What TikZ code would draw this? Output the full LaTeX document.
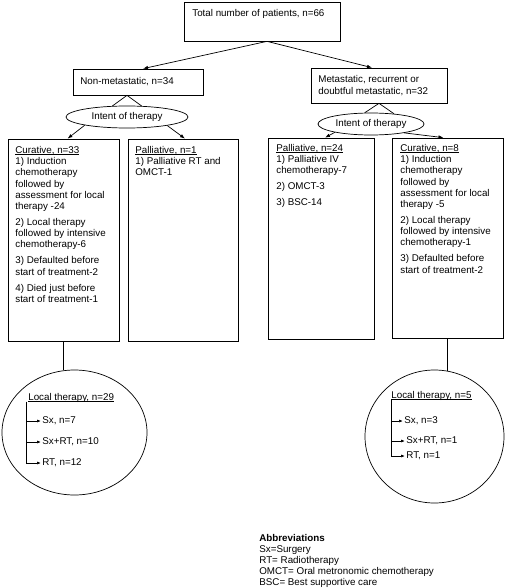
\documentclass[tikz,border=0pt]{standalone}
\usepackage{fontspec}
\setmainfont{Liberation Sans}
\usetikzlibrary{shapes.geometric,arrows.meta}
\newcommand\myul[1]{\setbox0\hbox{#1}\rlap{\rule[-1.4pt]{\wd0}{0.55pt}}\box0}
\begin{document}
\begin{tikzpicture}[x=1pt,y=-1pt,
  font=\fontsize{9.8}{11.2}\selectfont,
  line width=0.7pt,
  bx/.style={draw, rectangle, inner sep=0pt},
  txt/.style={inner sep=0pt, align=left, anchor=north west},
  oval/.style={draw, ellipse, inner sep=0pt},
  arr/.style={-{Latex[length=5pt,width=3.6pt]}},
  sarr/.style={-{Latex[length=4pt,width=3pt]}},
  lbl/.style={inner sep=1pt, anchor=west},
]
\useasboundingbox (0,0) rectangle (511,588);

% top
\node[bx, minimum width=156, minimum height=39] (top) at (262,21.5) {};
\node[txt] (toptxt) at (192,9) {Total number of patients, n=66};

% second level
\node[bx, minimum width=130, minimum height=26] (nonmet) at (138,82) {};
\node[inner sep=0pt, anchor=west] (nonmettxt) at (80,82) {Non-metastatic, n=34};
\node[bx, minimum width=136, minimum height=35] (met) at (379,85.5) {};
\node[inner sep=0pt, anchor=west, align=left] (mettxt) at (318,85.5) {Metastatic, recurrent or\\doubtful metastatic, n=32};

\draw[arr] ([xshift=5]top.south) -- ([xshift=5]nonmet.north);
\draw[arr] ([xshift=5]top.south) -- ([xshift=-7]met.north);

% ellipses
\node[oval, minimum width=122, minimum height=22] (le) at (127,117) {Intent of therapy};
\node[oval, minimum width=106, minimum height=22] (re) at (371,124) {Intent of therapy};

\coordinate (lpk) at (le.north |- nonmet.south);
\draw (le.143) -- (lpk) -- (le.37);
\coordinate (rpk) at (met.south);
\draw (re.119) -- (rpk) -- (re.24);

% third level boxes
\node[bx, minimum width=111, minimum height=202] (cur1) at (63.5,240) {};
\node[bx, minimum width=110, minimum height=202] (pal1) at (183,240) {};
\node[bx, minimum width=106, minimum height=201] (pal2) at (321,238.5) {};
\node[bx, minimum width=111, minimum height=200] (cur2) at (447.5,238) {};

\draw[arr] (le.191) -- ([xshift=4]cur1.north);
\draw[arr] (le.-12) -- ([xshift=2]pal1.north);
\draw[arr] (re.193) -- ([xshift=4]pal2.north);
\draw[arr] (re.-15) -- ([xshift=-4]cur2.north);

\node[txt] (cur1txt) at (15,146) {\myul{Curative, n=33}\\1) Induction\\chemotherapy\\followed by\\assessment for local\\therapy -24\\[4.8pt]2) Local therapy\\followed by intensive\\chemotherapy-6\\[4.8pt]3) Defaulted before\\start of treatment-2\\[4.8pt]4) Died just before\\start of treatment-1};
\node[txt] (pal1txt) at (135,146) {\myul{Palliative, n=1}\\1) Palliative RT and\\OMCT-1};
\node[txt] (pal2txt) at (276,144) {\myul{Palliative, n=24}\\1) Palliative IV\\chemotherapy-7\\[4.8pt]2) OMCT-3\\[4.8pt]3) BSC-14};
\node[txt] (cur2txt) at (400,144) {\myul{Curative, n=8}\\1) Induction\\chemotherapy\\followed by\\assessment for local\\therapy -5\\[4.8pt]2) Local therapy\\followed by intensive\\chemotherapy-1\\[4.8pt]3) Defaulted before\\start of treatment-2};

% circles
\node[oval, minimum width=145, minimum height=125] (lc) at (74.5,432.5) {};
\node[oval, minimum width=139, minimum height=133] (rc) at (434.5,436.5) {};
\draw (cur1.south) -- (cur1.south |- lc.north);
\draw (cur2.south) -- ([yshift=-1.5pt]cur2.south |- rc.north);

% left circle content
\node[inner sep=0pt, anchor=base west] (lt1) at (28,400) {\myul{Local therapy, n=29}};
\coordinate (la0) at (26,401.5);
\coordinate (la1) at (26,421);
\coordinate (la2) at (26,442);
\coordinate (la3) at (26,463);
\node[lbl] (l1) at (41,421) {Sx, n=7};
\node[lbl] (l2) at (41,442) {Sx+RT, n=10};
\node[lbl] (l3) at (41,463) {RT, n=12};
\draw (la0) -- (la3);
\draw[sarr] (la1) -- (l1.west);
\draw[sarr] (la2) -- (l2.west);
\draw[sarr] (la3) -- (l3.west);

% right circle content
\node[inner sep=0pt, anchor=base west] (rt1) at (391,398) {\myul{Local therapy, n=5}};
\coordinate (ra0) at (391,399.5);
\coordinate (ra1) at (391,421);
\coordinate (ra2) at (391,441);
\coordinate (ra3) at (391,456);
\node[lbl] (r1) at (403,421) {Sx, n=3};
\node[lbl] (r2) at (405,441) {Sx+RT, n=1};
\node[lbl] (r3) at (405,456) {RT, n=1};
\draw (ra0) -- (ra3);
\draw[sarr] (ra1) -- (r1.west);
\draw[sarr] (ra2) -- (r2.west);
\draw[sarr] (ra3) -- (r3.west);

% abbreviations
\node[txt, font=\fontsize{9.8}{10.9}\selectfont] (abbr) at (259,534) {\textbf{Abbreviations}\\Sx=Surgery\\RT= Radiotherapy\\OMCT= Oral metronomic chemotherapy\\BSC= Best supportive care};
\end{tikzpicture}
\end{document}
